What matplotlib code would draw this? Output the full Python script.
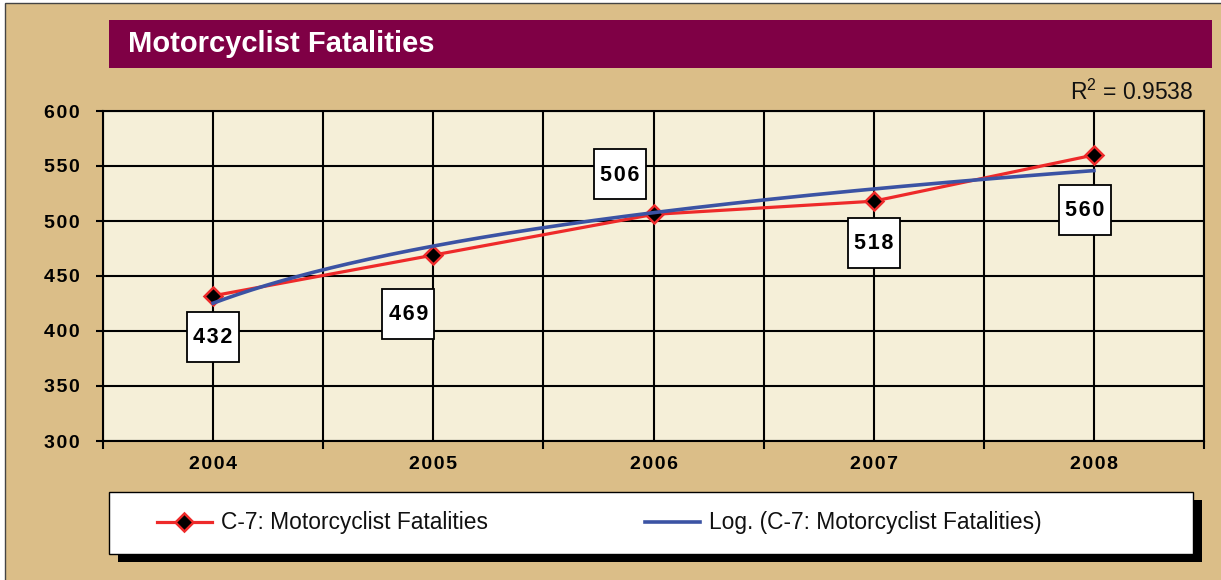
import numpy as np
import matplotlib
matplotlib.use("Agg")
import matplotlib.pyplot as plt
from matplotlib.patches import Rectangle
from matplotlib.offsetbox import DrawingArea, AnnotationBbox
from matplotlib.text import Text

# ---------------- data ----------------
years = ["2004", "2005", "2006", "2007", "2008"]
fatalities = [432, 469, 506, 518, 560]
y_ticks = [300, 350, 400, 450, 500, 550, 600]
y_tick_labels = ["300", "350", "400", "450", "500", "550", "600"]
r2_value = "0.9538"
series_label = "C-7: Motorcyclist Fatalities"
trend_label = "Log. (C-7: Motorcyclist Fatalities)"
title = "Motorcyclist Fatalities"

# ---------------- layout ----------------
W, H = 1221, 580
FONT = "Liberation Sans"
TAN = "#DBBE88"
CREAM = "#F5EFD8"
MAROON = "#7F0045"
RED = "#EE2A2A"
BLUE = "#3B53A4"
# label box offsets in pixels (dx, dy up)
label_offsets = [(0, -41), (-25, -59), (-34, 40), (0, -42), (-9, -55)]

plt.rcParams["mathtext.fontset"] = "custom"
plt.rcParams["mathtext.rm"] = FONT
plt.rcParams["mathtext.it"] = FONT
plt.rcParams["mathtext.bf"] = FONT + ":bold"

def fx(px):
    return px / W

def fy(py):
    return 1 - py / H

def spaced(s):
    return "\u200a".join(s)

fig = plt.figure(figsize=(W / 100, H / 100), dpi=100)
fig.patch.set_facecolor("white")

# background panel with border
fig.add_artist(Rectangle((fx(5), -0.01), 1.1, fy(3) + 0.01, transform=fig.transFigure,
                         facecolor=TAN, edgecolor="#444444", lw=1.0, zorder=-10))
# title bar
fig.add_artist(Rectangle((fx(109), fy(68)), fx(1212) - fx(109), (68 - 20) / H,
                         transform=fig.transFigure, facecolor=MAROON, edgecolor="none", zorder=-5))
fig.text(fx(128), fy(44), title, color="white", fontsize=21, fontweight="bold",
         family=FONT, va="center", ha="left")

# R^2 text
fig.text(fx(1193), fy(92), r"R$^{\mathrm{2}}$ = " + r2_value, fontsize=16.5, family=FONT,
         ha="right", va="center", color="#111111")

# legend box + shadow
fig.add_artist(Rectangle((fx(118), fy(562)), fx(1202) - fx(118), (562 - 500) / H,
                         transform=fig.transFigure, facecolor="black", edgecolor="none", zorder=-4))
fig.add_artist(Rectangle((fx(109), fy(554)), fx(1193) - fx(109), (554 - 492) / H,
                         transform=fig.transFigure, facecolor="white", edgecolor="black",
                         lw=1.0, zorder=-3))

# axes
ax = fig.add_axes([fx(103), fy(441), (1204 - 103) / W, (441 - 111) / H])
ax.set_facecolor(CREAM)
x = np.arange(len(years))

line_main, = ax.plot(x, fatalities, color=RED, lw=2.3, marker="D", markersize=9.5,
                     markerfacecolor="black", markeredgecolor=RED, markeredgewidth=1.8,
                     zorder=3, label=series_label)

# logarithmic trendline fitted to the data (Excel-style log trend)
t = np.arange(1, len(years) + 1)
a, b = np.polyfit(np.log(t), fatalities, 1)
ts = np.linspace(1, len(years), 300)
line_trend, = ax.plot(ts - 1, a * np.log(ts) + b, color=BLUE, lw=2.6, zorder=4,
                      label=trend_label)

ax.set_xlim(-0.5, len(years) - 0.5)
ax.set_ylim(300, 600)
ax.set_yticks(y_ticks)
ax.set_yticklabels([spaced(s) for s in y_tick_labels])
ax.set_xticks(x)
ax.set_xticklabels([spaced(s) for s in years])
ax.set_xticks(np.arange(-0.5, len(years)), minor=True)

for lbl in ax.get_xticklabels() + ax.get_yticklabels():
    lbl.set_fontfamily(FONT)
    lbl.set_fontweight("bold")
    lbl.set_fontsize(14)
    lbl.set_color("black")

ax.tick_params(axis="y", which="major", length=5, width=1.5, pad=12, color="black")
ax.tick_params(axis="x", which="major", length=0, pad=11)
ax.tick_params(axis="x", which="minor", length=6, width=1.5, color="black")

ax.grid(True, axis="x", which="both", color="black", lw=1.5, zorder=1)
ax.grid(True, axis="y", which="major", color="black", lw=1.5, zorder=1)
ax.set_axisbelow(True)
for sp in ax.spines.values():
    sp.set_color("black")
    sp.set_linewidth(1.5)

# data labels (boxes)
for xi, yi, txt, (dx, dy) in zip(x, fatalities, fatalities, label_offsets):
    bw, bh = 52 * 0.72, 50 * 0.72
    da = DrawingArea(bw, bh, 0, 0, clip=False)
    da.add_artist(Rectangle((0, 0), bw, bh, facecolor="white", edgecolor="black", lw=1.3))
    da.add_artist(Text(bw / 2, bh / 2 - 0.5, spaced(str(txt)), ha="center", va="center",
                       fontsize=15.5, fontweight="bold", family=FONT, color="black"))
    ab = AnnotationBbox(da, (xi, yi), xybox=(dx * 0.72, dy * 0.72), boxcoords="offset points",
                        frameon=False, pad=0, box_alignment=(0.5, 0.5), zorder=6)
    ax.add_artist(ab)

# legend
leg = fig.legend(handles=[line_main, line_trend], loc="center left",
                 bbox_to_anchor=(fx(157), fy(523)), ncol=2, frameon=False,
                 prop={"family": FONT, "size": 16.4}, handlelength=2.4,
                 handletextpad=0.4, columnspacing=6.9, borderpad=0, borderaxespad=0,
                 numpoints=1)
for t_ in leg.get_texts():
    t_.set_color("#111111")

fig.savefig("out.png", dpi=100, facecolor=fig.get_facecolor())
